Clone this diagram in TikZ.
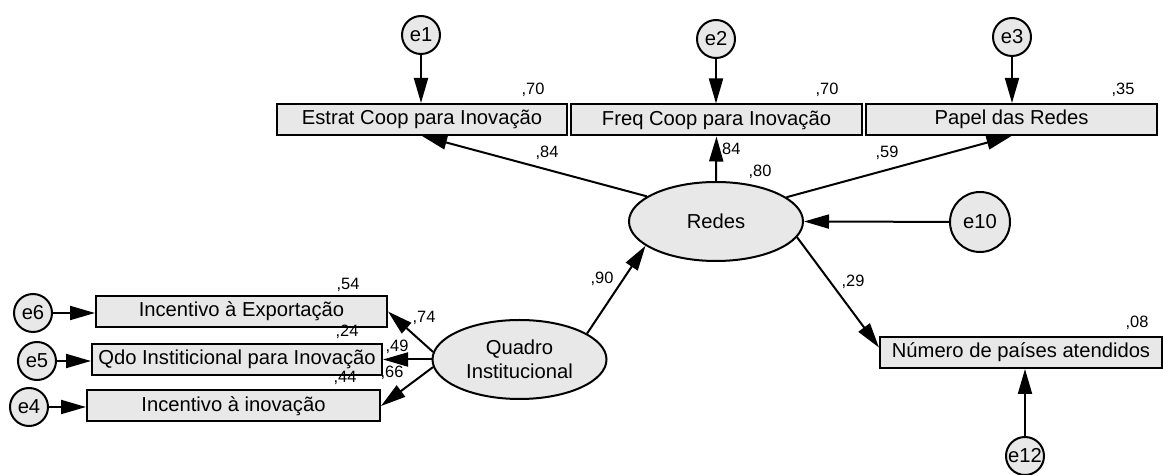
\documentclass[tikz,border=0pt]{standalone}
\usepackage{fontspec}
\setmainfont{Liberation Sans}
\usetikzlibrary{arrows.meta,shapes.geometric}
\begin{document}
\begin{tikzpicture}[x=0.5pt,y=-0.5pt,
  every node/.style={font=\fontsize{10.1}{12}\selectfont},
  obs/.style={draw, line width=1pt, fill=gray!18, rectangle, inner sep=0pt, minimum height=15.5pt},
  lat/.style={draw, line width=1pt, fill=gray!18, ellipse, inner sep=0pt, minimum width=87pt, minimum height=39.5pt, align=center},
  err/.style={draw, line width=1pt, fill=gray!18, circle, inner sep=0pt, minimum size=19pt},
  bigerr/.style={err, minimum size=30pt},
  lbl/.style={font=\fontsize{8.2}{9}\selectfont, inner sep=0pt},
  arr/.style={line width=1pt, -{Triangle[length=12.5pt,width=7pt]}}]
\useasboundingbox (0,0) rectangle (1163,475);
% observed variables
\node[obs, minimum width=145pt] (b1) at (422,119.5) {Estrat Coop para Inovação};
\node[obs, minimum width=145.5pt] (b2) at (716.5,120) {Freq Coop para Inovação};
\node[obs, minimum width=145.5pt] (b3) at (1011.5,119.5) {Papel das Redes};
\node[obs, minimum width=145.5pt] (l1) at (241.5,311.5) {Incentivo à Exportação};
\node[obs, minimum width=145pt] (l2) at (237,359.5) {Qdo Institicional para Inovação};
\node[obs, minimum width=146.5pt] (l3) at (233.5,406) {Incentivo à inovação};
\node[obs, minimum width=141pt] (num) at (1021,352.5) {Número de países atendidos};
% latent
\node[lat] (redes) at (716,221.5) {Redes};
\node[lat] (quadro) at (519.5,359.5) {Quadro\\Institucional};
% errors
\node[err] (e1) at (421,35) {e1};
\node[err] (e2) at (716,39) {e2};
\node[err] (e3) at (1012,37) {e3};
\node[err] (e6) at (33,313) {e6};
\node[err] (e5) at (37,361) {e5};
\node[err] (e4) at (29,407) {e4};
\node[bigerr] (e10) at (980,222) {e10};
\node[err] (e12) at (1025,456) {e12};
% error arrows
\draw[arr] (e1) -- (b1.north -| e1);
\draw[arr] (e2) -- (b2.north -| e2);
\draw[arr] (e3) -- (b3.north -| e3);
\draw[arr] (e6) -- (l1.west |- e6);
\draw[arr] (e5) -- (l2.west |- e5);
\draw[arr] (e4) -- (l3.west |- e4);
\draw[arr] (e10) -- (redes.east);
\draw[arr] (e12) -- (num.south -| e12);
% structural arrows
\draw[arr] (redes.160.5) -- (b1.south);
\draw[arr] (redes.north) -- (b2.south);
\draw[arr] (redes.19.5) -- (b3.south);
\draw[arr] (redes.-11.5) -- (num.178);
\draw[arr] (quadro.21) -- (redes.199);
\draw[arr] (quadro.175) -- (l1.east);
\draw[arr] (quadro.180) -- (l2.east);
\draw[arr] (quadro.185.6) -- (l3.east);
% labels
\node[lbl] (r1) at (533,90) {,70};
\node[lbl] (r2) at (827,90) {,70};
\node[lbl] (r3) at (1123,90) {,35};
\node[lbl] (w2) at (729,150) {,84};
\node[lbl] (r10) at (760,172) {,80};
\node[lbl] (w1) at (547,153) {,84};
\node[lbl] (w3) at (887,153) {,59};
\node[lbl] (w4) at (853,282) {,29};
\node[lbl] (w5) at (602,279) {,90};
\node[lbl] (w6) at (424,318) {,74};
\node[lbl] (w7) at (397,347) {,49};
\node[lbl] (w8) at (392,373) {,66};
\node[lbl] (r6) at (348,285) {,54};
\node[lbl] (r5) at (347,332) {,24};
\node[lbl] (r4) at (345,378) {,44};
\node[lbl] (r12) at (1137,323) {,08};
\end{tikzpicture}
\end{document}
